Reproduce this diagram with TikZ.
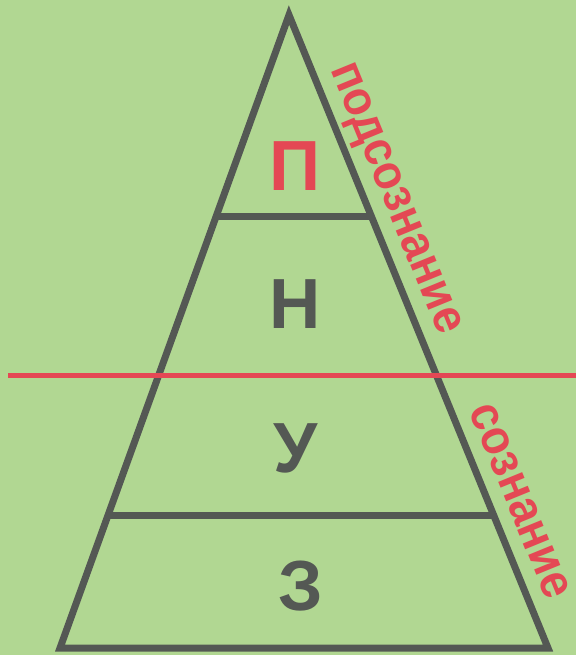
\documentclass[tikz,border=0pt]{standalone}
\usepackage{fontspec}
\setmainfont{Liberation Sans}
\newfontfamily\sidefont[FakeStretch=0.92]{Liberation Sans Bold}
\usetikzlibrary{calc}
\definecolor{bgc}{RGB}{177,215,146}
\definecolor{edgec}{RGB}{84,88,84}
\definecolor{redc}{RGB}{228,72,84}
\begin{document}
\begin{tikzpicture}[x=1pt,y=-1pt,
  edgeline/.style={draw=edgec,line width=7pt,line join=miter},
  redline/.style={draw=redc,line width=5pt},
  bigletter/.style={inner sep=0pt,anchor=base,font=\fontsize{71}{71}\selectfont\bfseries},
  sidelabel/.style={inner sep=0pt,anchor=base,text=redc,rotate=-67.75,font=\fontsize{49}{49}\sidefont}]
\fill[bgc] (0,0) rectangle (576,655);
\useasboundingbox (0,0) rectangle (576,655);
\coordinate (A) at (289,15);
\coordinate (BL) at (60,648);
\coordinate (BR) at (548,648);
\coordinate (L1) at ($(A)!0.3191!(BL)$);
\coordinate (R1) at ($(A)!0.3191!(BR)$);
\coordinate (L2) at ($(A)!0.7899!(BL)$);
\coordinate (R2) at ($(A)!0.7899!(BR)$);
\coordinate (RL) at (8,375);
\coordinate (RR) at (576,375);
\draw[edgeline] (A) -- (BL) -- (BR) -- cycle;
\draw[edgeline] (L1) -- (R1);
\draw[edgeline] (L2) -- (R2);
\draw[redline] (RL) -- (RR);
\node[bigletter,text=redc] (p) at (295,190) {П};
\node[bigletter,text=edgec] (n) at (295,328) {Н};
\node[bigletter,text=edgec] (u) at (296,472) {У};
\node[bigletter,text=edgec] (z) at (301,610) {З};
\node[sidelabel] (sub) at (385,203) {подсознание};
\node[sidelabel] (con) at (508,506) {сознание};
\end{tikzpicture}
\end{document}
